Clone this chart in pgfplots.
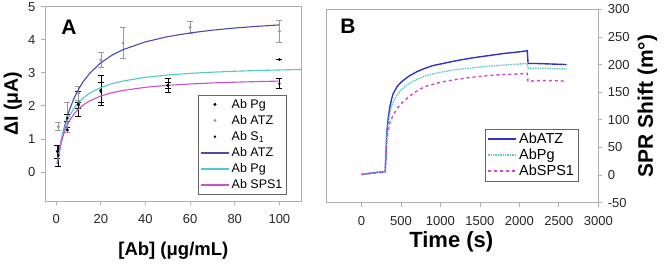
\documentclass[border=0pt]{standalone}
\usepackage{fontspec}
\setmainfont{Liberation Sans}
\usepackage{pgfplots}
\pgfplotsset{compat=1.18}
\definecolor{atzA}{RGB}{75,75,175}
\definecolor{pgA}{RGB}{80,200,200}
\definecolor{spsA}{RGB}{200,80,200}
\definecolor{atzB}{RGB}{50,50,195}
\definecolor{pgB}{RGB}{90,200,200}
\definecolor{spsB}{RGB}{205,70,205}
\definecolor{frame}{RGB}{175,175,175}
\pgfplotsset{
  lineleg/.style={legend image code/.code={\draw[##1, line width=#1] (0pt,0pt) -- (28pt,0pt);}},
  marklegA/.style={legend image code/.code={\draw[##1] plot coordinates {(14pt,0pt)};}},
  common/.style={
    scale only axis,
    axis line style={frame, line width=0.7pt},
    tick style={frame, line width=0.7pt},
    tick align=outside,
    major tick length=4pt,
    /pgf/number format/assume math mode=true,
    /pgf/number format/set thousands separator={},
    tick label style={font=\fontsize{13}{15}\selectfont, text=black!85},
    label style={font=\fontsize{21}{24}\selectfont\bfseries, text=black},
    xtick pos=left,
  },
}
\begin{document}
\begin{tikzpicture}[x=1pt,y=1pt]
\useasboundingbox (0,0) rectangle (666,263);
% ---------------- Panel A ----------------
\begin{axis}[common,
  at={(45pt,62pt)}, anchor=south west,
  width=256.7pt, height=195pt,
  xmin=-5, xmax=110, ymin=-0.88, ymax=5.02,
  xtick={0,20,40,60,80,100}, ytick={0,1,2,3,4,5},
  ytick pos=left,
  xticklabel style={yshift=-6pt},
  yticklabel style={xshift=-2pt},
  xlabel={{[}Ab{]} (μg/mL)},
  ylabel={ΔI (μA)},
  xlabel style={at={(axis description cs:0.5,-0.255)}, anchor=center, font=\fontsize{18.5}{22}\selectfont\bfseries},
  ylabel style={at={(axis description cs:-0.125,0.5)}, anchor=center, font=\fontsize{19.5}{22}\selectfont\bfseries},
  legend style={at={(axis description cs:0.596,0.544)}, anchor=north west,
    draw=black!60, font=\fontsize{12.5}{14}\selectfont,
    inner xsep=2pt, inner ysep=2pt, row sep=1.6pt,
    cells={anchor=west}},
  legend cell align=left,
]
\addplot[marklegA, only marks, mark=*, mark size=1.3pt, color=black,
  error bars/.cd, y dir=both, y explicit,
  error bar style={line width=0.5pt},
  error mark options={rotate=90, mark size=3pt, line width=0.5pt}]
  table[x=x, y=y, y error=e] {
x y e
0.5 0.62 0.20
5 1.27 0.08
10 2.05 0.38
20 2.47 0.45
50 2.62 0.20
100 3.40 0.00
};
\addlegendentry{Ab Pg}
\addplot[marklegA, only marks, mark=*, mark size=1.3pt, color=black!40,
  error bars/.cd, y dir=both, y explicit,
  error bar style={line width=0.5pt},
  error mark options={rotate=90, mark size=3pt, line width=0.5pt}]
  table[x=x, y=y, y error=e] {
x y e
1 1.37 0.12
5 1.66 0.45
10 2.38 0.21
20 3.39 0.22
30 3.90 0.47
60 4.37 0.18
100 4.25 0.33
};
\addlegendentry{Ab ATZ}
\addplot[marklegA, only marks, mark=*, mark size=1.0pt, color=black,
  error bars/.cd, y dir=both, y explicit,
  error bar style={line width=0.5pt},
  error mark options={rotate=90, mark size=3pt, line width=0.5pt}]
  table[x=x, y=y, y error=e] {
x y e
1 0.50 0.32
5 1.63 0.10
10 2.02 0.10
20 2.42 0.30
50 2.62 0.10
100 2.67 0.15
};
\addlegendentry{Ab S\textsubscript{1}}
\addplot[lineleg=1.5pt, atzA, line width=1.1pt] coordinates {
(0.5,0.244) (1,0.464) (2,0.848) (3,1.170) (4,1.444) (5,1.680) (6,1.886) (8,2.228)
(10,2.499) (12,2.719) (15,2.983) (20,3.303) (25,3.530) (30,3.700) (40,3.936)
(50,4.093) (60,4.205) (70,4.289) (80,4.354) (90,4.405) (100,4.448)};
\addlegendentry{Ab ATZ}
\addplot[lineleg=1.5pt, pgA, line width=1.1pt] coordinates {
(0.5,0.271) (1,0.501) (2,0.868) (3,1.149) (4,1.371) (5,1.550) (6,1.698) (8,1.929)
(10,2.100) (12,2.232) (15,2.382) (20,2.553) (25,2.668) (30,2.751) (40,2.862)
(50,2.932) (60,2.982) (70,3.018) (80,3.046) (90,3.068) (100,3.085) (110,3.100)};
\addlegendentry{Ab Pg}
\addplot[lineleg=1.5pt, spsA, line width=1.1pt] coordinates {
(0.5,0.255) (1,0.469) (2,0.807) (3,1.063) (4,1.262) (5,1.422) (6,1.554) (8,1.757)
(10,1.906) (12,2.021) (15,2.150) (20,2.297) (25,2.396) (30,2.466) (40,2.560)
(50,2.620) (60,2.661) (70,2.692) (80,2.715) (90,2.733) (100,2.748)};
\addlegendentry{Ab SPS1}
\node[font=\fontsize{21}{24}\selectfont\bfseries] at (axis description cs:0.0935,0.892) {A};
\end{axis}
% ---------------- Panel B ----------------
\begin{axis}[common,
  at={(326pt,60.3pt)}, anchor=south west,
  width=272.3pt, height=193.4pt,
  xmin=-450, xmax=3000, ymin=-50, ymax=300,
  xtick={0,500,1000,1500,2000,2500,3000},
  ytick={-50,0,50,100,150,200,250,300},
  ytick pos=right, yticklabel pos=right,
  xticklabel style={yshift=-6pt},
  yticklabel style={xshift=2pt},
  xlabel={Time (s)},
  ylabel={SPR Shift (m°)},
  xlabel style={at={(axis description cs:0.46,-0.2)}, anchor=center, font=\fontsize{22}{25}\selectfont\bfseries},
  ylabel style={at={(axis description cs:1.18,0.5)}, anchor=center, rotate=0},
  legend style={at={(axis description cs:0.584,0.38)}, anchor=north west,
    draw=black!60, font=\fontsize{14.5}{16}\selectfont,
    inner xsep=2pt, inner ysep=2pt, row sep=0pt,
    cells={anchor=west}},
  legend cell align=left,
]
\addplot[lineleg=2pt, atzB, line width=1.4pt] coordinates {
(0,1) (100,3) (200,5) (300,6) (310,40) (320,78) (340,105) (360,124) (380,137)
(400,147) (450,160) (500,168) (600,179) (700,187) (800,193) (900,198) (1000,201)
(1200,207) (1400,212) (1600,216) (1800,220) (2000,223) (2100,225) (2110,202)
(2200,202) (2400,201) (2600,200)};
\addlegendentry{AbATZ}
\addplot[lineleg=2pt, pgB, line width=1.4pt, densely dotted] coordinates {
(0,1) (100,3) (200,5) (300,6) (310,40) (320,74) (340,96) (360,112) (380,124)
(400,132) (450,145) (500,154) (600,166) (700,173) (800,179) (900,183) (1000,186)
(1200,191) (1400,194) (1600,197) (1800,199) (2000,201) (2100,202) (2110,193)
(2200,193) (2400,193) (2600,192)};
\addlegendentry{AbPg}
\addplot[lineleg=2pt, spsB, line width=1.4pt, dashed] coordinates {
(0,1) (100,3) (200,4) (300,5) (310,35) (320,64) (340,82) (360,95) (380,102)
(400,108) (450,120) (500,129) (600,142) (700,152) (800,160) (900,164) (1000,168)
(1200,173) (1400,177) (1600,180) (1800,182) (2000,183) (2100,184) (2110,169)
(2200,171) (2400,171) (2600,170)};
\addlegendentry{AbSPS1}
\node[font=\fontsize{21}{24}\selectfont\bfseries] at (axis description cs:0.081,0.914) {B};
\end{axis}
\end{tikzpicture}
\end{document}
